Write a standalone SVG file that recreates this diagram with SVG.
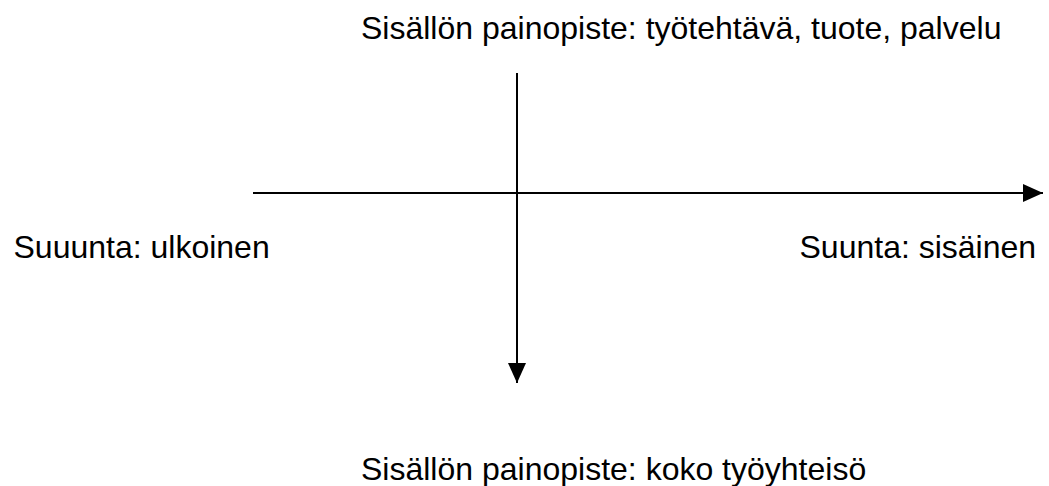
<svg xmlns="http://www.w3.org/2000/svg" width="1049" height="486" viewBox="0 0 1049 486">
<style>
text{font-family:"Liberation Sans",Arial,sans-serif;font-size:32px;fill:#000}
.ax{stroke:#000;stroke-width:2;fill:none}
</style>
<defs>
<marker id="ah" markerUnits="userSpaceOnUse" markerWidth="20" markerHeight="18" refX="20" refY="9" orient="auto">
<path d="M0,0 L20,9 L0,18 Z" fill="#000"/>
</marker>
</defs>
<g id="connectors">
<line class="ax" x1="253" y1="193" x2="1043" y2="193" marker-end="url(#ah)"/>
<line class="ax" x1="517" y1="73" x2="517" y2="383" marker-end="url(#ah)"/>
</g>
<g id="top"><text x="361" y="39">Sisällön painopiste: työtehtävä, tuote, palvelu</text></g>
<g id="left"><text x="13.5" y="258">Suuunta: ulkoinen</text></g>
<g id="right"><text x="799.5" y="258">Suunta: sisäinen</text></g>
<g id="bottom"><text x="361" y="480">Sisällön painopiste: koko työyhteisö</text></g>
</svg>
